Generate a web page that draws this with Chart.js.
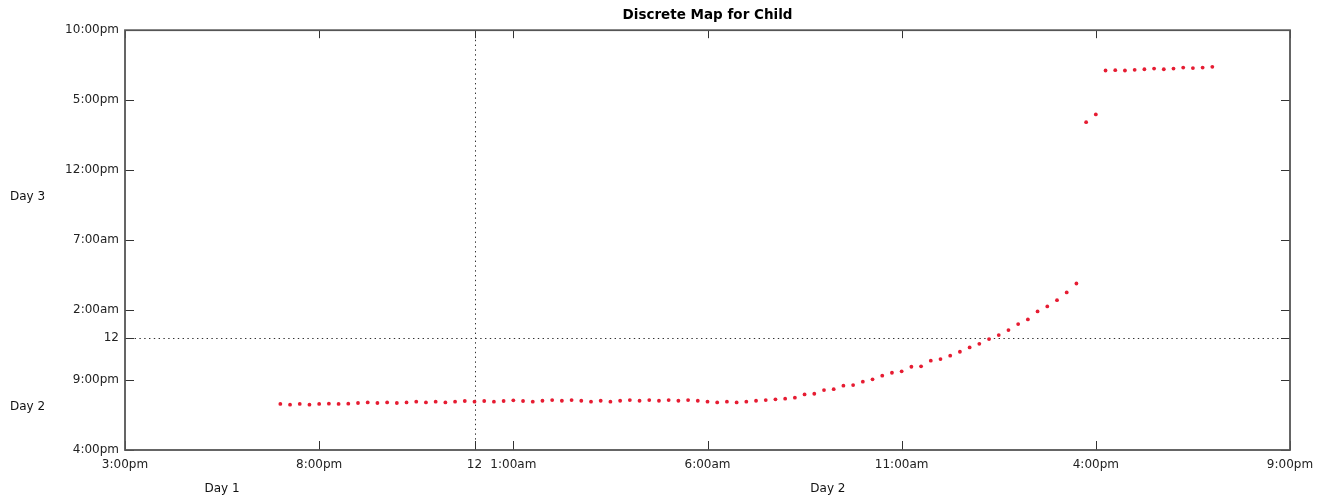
<!DOCTYPE html>
<html>
<head>
<meta charset="utf-8">
<title>Discrete Map for Child</title>
<script src="https://cdn.jsdelivr.net/npm/chart.js@4.4.1/dist/chart.umd.min.js"></script>
<style>
  body { margin: 0; background: #fff; }
  canvas { display: block; }
</style>
</head>
<body>
<canvas id="mapChart" width="1332" height="501"></canvas>
<script>
// hours counted from midnight at the start of Day 1 (x) / Day 2 (y)
const sampleHours = [
  19, 19.25, 19.5, 19.75, 20, 20.25, 20.5, 20.75, 21, 21.25, 21.5, 21.75,
  22, 22.25, 22.5, 22.75, 23, 23.25, 23.5, 23.75, 24, 24.25, 24.5, 24.75,
  25, 25.25, 25.5, 25.75, 26, 26.25, 26.5, 26.75, 27, 27.25, 27.5, 27.75,
  28, 28.25, 28.5, 28.75, 29, 29.25, 29.5, 29.75, 30, 30.25, 30.5, 30.75,
  31, 31.25, 31.5, 31.75, 32, 32.25, 32.5, 32.75, 33, 33.25, 33.5, 33.75,
  34, 34.25, 34.5, 34.75, 35, 35.25, 35.5, 35.75, 36, 36.25, 36.5, 36.75,
  37, 37.25, 37.5, 37.75, 38, 38.25, 38.5, 38.75, 39, 39.25, 39.5, 39.75,
  40, 40.25, 40.5, 40.75, 41, 41.25, 41.5, 41.75, 42, 42.25, 42.5, 42.75, 43
];
const nextHours = [
  19.29, 19.24, 19.29, 19.24, 19.29, 19.31, 19.29, 19.31, 19.36, 19.40, 19.36, 19.40,
  19.36, 19.40, 19.45, 19.40, 19.45, 19.40, 19.45, 19.50, 19.45, 19.50, 19.45, 19.50,
  19.55, 19.50, 19.45, 19.52, 19.57, 19.52, 19.57, 19.52, 19.45, 19.52, 19.45, 19.52,
  19.57, 19.52, 19.57, 19.52, 19.57, 19.52, 19.57, 19.52, 19.45, 19.40, 19.45, 19.40,
  19.45, 19.52, 19.57, 19.62, 19.67, 19.74, 19.97, 20.02, 20.28, 20.35, 20.60, 20.64,
  20.88, 21.05, 21.31, 21.52, 21.62, 21.95, 21.98, 22.38, 22.50, 22.74, 23.02, 23.33,
  23.59, 23.93, 24.21, 24.57, 25.00, 25.33, 25.90, 26.26, 26.71, 27.26, 27.90, 39.43,
  39.98, 43.12, 43.14, 43.12, 43.17, 43.21, 43.26, 43.21, 43.26, 43.33, 43.29, 43.33, 43.38
];

const xTickValues = [15, 20, 24, 25, 30, 35, 40, 45];
const xTickLabels = ['3:00pm', '8:00pm', '12', '1:00am', '6:00am', '11:00am', '4:00pm', '9:00pm'];
const yTickValues = [16, 21, 24, 26, 31, 36, 41, 46];
const yTickLabels = ['4:00pm', '9:00pm', '12', '2:00am', '7:00am', '12:00pm', '5:00pm', '10:00pm'];

const xDayLabels = [{ text: 'Day 1', at: 17.5 }, { text: 'Day 2', at: 33.1 }];
const yDayLabels = [{ text: 'Day 3', at: 34.1 }, { text: 'Day 2', at: 19.1 }];

const points = sampleHours.map((h, i) => ({ x: h, y: nextHours[i] }));

const FONT = 'DejaVu Sans';

// frame, inward ticks, midnight guides and day captions
const framePlugin = {
  id: 'frame',
  beforeDatasetsDraw(chart) {
    const { ctx, chartArea: a, scales: { x, y } } = chart;
    ctx.save();
    ctx.strokeStyle = '#333';
    ctx.lineWidth = 1;
    ctx.beginPath();
    xTickValues.forEach(v => {
      const px = Math.round(x.getPixelForValue(v)) + 0.5;
      ctx.moveTo(px, a.bottom); ctx.lineTo(px, a.bottom - 9);
      ctx.moveTo(px, a.top); ctx.lineTo(px, a.top + 8);
    });
    yTickValues.forEach(v => {
      const py = Math.round(y.getPixelForValue(v)) + 0.5;
      ctx.moveTo(a.left, py); ctx.lineTo(a.left + 9, py);
      ctx.moveTo(a.right, py); ctx.lineTo(a.right - 9, py);
    });
    ctx.stroke();

    ctx.strokeStyle = '#333';
    ctx.setLineDash([1.4, 3.4]);
    ctx.beginPath();
    const mx = Math.round(x.getPixelForValue(24)) + 0.5;
    const my = Math.round(y.getPixelForValue(24)) + 0.5;
    ctx.moveTo(mx, a.top); ctx.lineTo(mx, a.bottom);
    ctx.moveTo(a.left, my); ctx.lineTo(a.right, my);
    ctx.stroke();
    ctx.setLineDash([]);

    ctx.strokeStyle = '#555';
    ctx.lineWidth = 1.8;
    ctx.strokeRect(a.left, a.top, a.right - a.left, a.bottom - a.top);
    ctx.restore();
  },
  afterDraw(chart) {
    const { ctx, scales: { x, y } } = chart;
    ctx.save();
    ctx.font = '12px "' + FONT + '"';
    ctx.fillStyle = '#111';
    ctx.textBaseline = 'middle';
    ctx.textAlign = 'center';
    xDayLabels.forEach(d => ctx.fillText(d.text, x.getPixelForValue(d.at), 489));
    ctx.textAlign = 'left';
    yDayLabels.forEach(d => ctx.fillText(d.text, 10, y.getPixelForValue(d.at)));
    ctx.restore();
  }
};

new Chart(document.getElementById('mapChart'), {
  type: 'scatter',
  data: {
    datasets: [{
      data: points,
      pointRadius: 1.9,
      pointBorderWidth: 0,
      pointBackgroundColor: 'rgb(230, 28, 50)',
      showLine: false
    }]
  },
  options: {
    responsive: false,
    devicePixelRatio: 1,
    animation: false,
    layout: { padding: { left: 0, right: 42, top: 0, bottom: 0 } },
    plugins: {
      legend: { display: false },
      tooltip: { enabled: false },
      title: {
        display: true,
        fullSize: false,
        text: 'Discrete Map for Child',
        color: '#000',
        font: { family: FONT, size: 13.5, weight: 'bold' },
        padding: { top: 7, bottom: 7 }
      }
    },
    scales: {
      x: {
        type: 'linear',
        min: 15,
        max: 45,
        afterBuildTicks: s => { s.ticks = xTickValues.map(v => ({ value: v })); },
        afterFit: s => { s.height = 51; },
        grid: { display: false, drawTicks: false },
        border: { display: false },
        ticks: {
          autoSkip: false,
          maxRotation: 0,
          padding: 8,
          color: '#222',
          font: { family: FONT, size: 12 },
          callback: (v, i) => xTickLabels[i]
        }
      },
      y: {
        type: 'linear',
        min: 16,
        max: 46,
        afterBuildTicks: s => { s.ticks = yTickValues.map(v => ({ value: v })); },
        afterFit: s => { s.width = 125; },
        grid: { display: false, drawTicks: false },
        border: { display: false },
        ticks: {
          autoSkip: false,
          padding: 6,
          color: '#222',
          font: { family: FONT, size: 12 },
          callback: (v, i) => yTickLabels[i]
        }
      }
    }
  },
  plugins: [framePlugin]
});
</script>
</body>
</html>
